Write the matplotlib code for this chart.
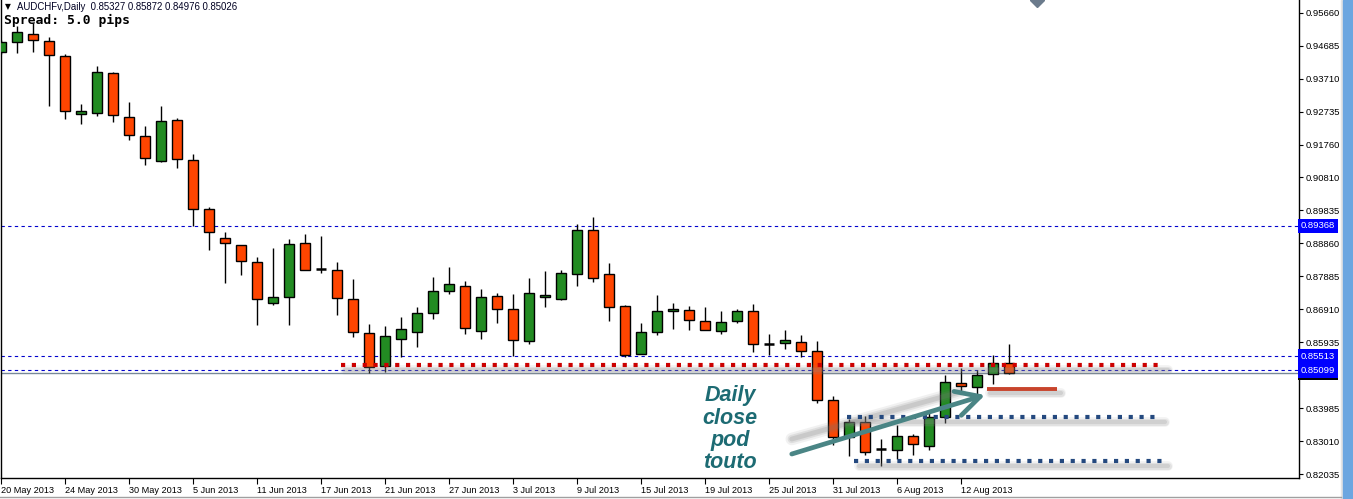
#AUDCHF daily candles, MT4 style screenshot
import matplotlib
matplotlib.use('Agg')
import matplotlib.pyplot as plt
from matplotlib.patches import Rectangle
from matplotlib.lines import Line2D
from matplotlib.transforms import blended_transform_factory

plt.rcParams['font.family'] = ['Liberation Sans', 'DejaVu Sans']

opens = [0.94516, 0.94794, 0.95030, 0.94824, 0.94389, 0.92666, 0.92696, 0.93878, 0.92577, 0.92016,
         0.91277, 0.92489, 0.91306, 0.89858, 0.89001, 0.88794, 0.88292, 0.87080, 0.87257, 0.88853,
         0.88087, 0.88055, 0.87198, 0.86193, 0.85218, 0.86016, 0.86223, 0.86784, 0.87435, 0.87582,
         0.86252, 0.87287, 0.86903, 0.85957, 0.87257, 0.87198, 0.87937, 0.89238, 0.87937, 0.86991,
         0.85573, 0.86223, 0.86843, 0.86873, 0.86548, 0.86252, 0.86548, 0.86843, 0.85870, 0.85898,
         0.85927, 0.85661, 0.84213, 0.83119, 0.83563, 0.82767, 0.82735, 0.83149, 0.82853, 0.83710,
         0.84715, 0.84597, 0.84981, 0.85327]
highs = [0.94862, 0.95276, 0.95356, 0.94942, 0.94448, 0.92970, 0.94094, 0.93916, 0.93030, 0.92320,
         0.92911, 0.92548, 0.91493, 0.89917, 0.89187, 0.88800, 0.88440, 0.88706, 0.88972, 0.89119,
         0.89060, 0.88292, 0.87798, 0.86468, 0.86409, 0.86675, 0.86962, 0.87857, 0.88153, 0.87739,
         0.87494, 0.87376, 0.87355, 0.87828, 0.88035, 0.88064, 0.89424, 0.89631, 0.88262, 0.87030,
         0.86498, 0.87316, 0.87080, 0.86991, 0.86962, 0.86843, 0.86903, 0.87050, 0.86164, 0.86282,
         0.86134, 0.85957, 0.84331, 0.83651, 0.83740, 0.83060, 0.83474, 0.83208, 0.83888, 0.84952,
         0.85159, 0.85100, 0.85543, 0.85872]
lows = [0.94448, 0.94469, 0.94498, 0.92920, 0.92518, 0.92388, 0.92625, 0.92447, 0.91915, 0.91176,
        0.91270, 0.91088, 0.89373, 0.88664, 0.87689, 0.87925, 0.86447, 0.87021, 0.86447, 0.88050,
        0.87967, 0.86743, 0.86093, 0.85029, 0.85058, 0.85484, 0.85797, 0.86625, 0.87346, 0.86181,
        0.86034, 0.86507, 0.85531, 0.85886, 0.86979, 0.87190, 0.87600, 0.87718, 0.86566, 0.85484,
        0.85570, 0.86134, 0.86311, 0.86282, 0.86280, 0.86164, 0.86489, 0.85632, 0.85543, 0.85720,
        0.85484, 0.84124, 0.82883, 0.82558, 0.82587, 0.82262, 0.82469, 0.82587, 0.82735, 0.83533,
        0.84479, 0.84302, 0.84686, 0.84976]
closes = [0.94794, 0.95090, 0.94853, 0.94410, 0.92755, 0.92764, 0.93907, 0.92636, 0.92045, 0.91366,
          0.92459, 0.91336, 0.89858, 0.89178, 0.88853, 0.88321, 0.87198, 0.87257, 0.88824, 0.88055,
          0.88083, 0.87228, 0.86240, 0.85206, 0.86104, 0.86311, 0.86784, 0.87435, 0.87641, 0.86341,
          0.87257, 0.86903, 0.85986, 0.87376, 0.87316, 0.87967, 0.89238, 0.87819, 0.86962, 0.85543,
          0.86223, 0.86843, 0.86903, 0.86577, 0.86282, 0.86518, 0.86843, 0.85868, 0.85866, 0.85986,
          0.85661, 0.84213, 0.83119, 0.83563, 0.82676, 0.82763, 0.83149, 0.82912, 0.83710, 0.84745,
          0.84627, 0.84952, 0.85320, 0.85026]

date_labels = ['20 May 2013', '24 May 2013', '30 May 2013', '5 Jun 2013', '11 Jun 2013', '17 Jun 2013',
               '21 Jun 2013', '27 Jun 2013', '3 Jul 2013', '9 Jul 2013', '15 Jul 2013', '19 Jul 2013',
               '25 Jul 2013', '31 Jul 2013', '6 Aug 2013', '12 Aug 2013']
price_ticks = [0.95660, 0.94685, 0.93710, 0.92735, 0.91760, 0.90810, 0.89835, 0.88860, 0.87885,
               0.86910, 0.85935, 0.83985, 0.83010, 0.82035]
level_lines = [0.89368, 0.85513, 0.85099]
bid = 0.85026

W, H = 1353, 499
fig = plt.figure(figsize=(W / 100, H / 100), dpi=100)
ax = fig.add_axes([1 / W, 21 / H, 1298 / W, 478 / H])
ax.set_xlim(-0.02, 81.1)
ax.set_ylim(0.81917, 0.96044)

# candles
for i in range(len(opens)):
    o, h, l, c = opens[i], highs[i], lows[i], closes[i]
    ax.vlines(i, l, h, color='black', lw=1.0, zorder=2)
    if abs(c - o) < 0.00006:
        ax.hlines(o, i - 0.31, i + 0.31, color='black', lw=1.8, zorder=3)
    else:
        col = '#228b22' if c > o else '#ff4500'
        ax.bar(i, abs(c - o), bottom=min(o, c), width=0.62, color=col,
               edgecolor='black', linewidth=1.0, zorder=3)

# horizontal levels
for p in level_lines:
    ax.axhline(p, color='#0000cd', lw=0.8, ls=(0, (3, 3)), zorder=1)
ax.axhline(bid, color='#778899', lw=1.0, zorder=1)

# hand drawn markup
def dotted(x0, x1, y, color):
    for w, a in [(7, 0.10), (5, 0.15), (3, 0.2)]:
        ax.plot([x0 + 0.3, x1 + 0.3], [y - 0.0016, y - 0.0016], color='#888888', lw=w,
                alpha=a, solid_capstyle='round', zorder=4)
    ax.plot([x0, x1], [y, y], color=color, lw=3.0, ls=(0, (1, 1.6)),
            dash_capstyle='butt', zorder=5)

dotted(21.2, 72.6, 0.85271, '#cc0000')
dotted(52.85, 72.4, 0.83719, '#24497f')
dotted(53.3, 72.6, 0.82428, '#24497f')

for w, a in [(7, 0.10), (5, 0.15), (3, 0.2)]:
    ax.plot([61.8, 66.2], [0.84420, 0.84420], color='#888888', lw=w, alpha=a,
            solid_capstyle='round', zorder=4)
ax.plot([61.59, 65.96], [0.84538, 0.84538], color='#c8442c', lw=2.8,
        solid_capstyle='butt', zorder=5)

# arrow with its shadow
for w, a in [(9, 0.10), (6, 0.15), (3.5, 0.2)]:
    ax.plot([49.4, 59.9], [0.83069, 0.84458], color='#777777', lw=w, alpha=a,
            solid_capstyle='round', zorder=4)
ax.annotate('', xy=(61.48, 0.84370), xytext=(49.4, 0.82626),
            arrowprops=dict(arrowstyle='->,head_length=0.85,head_width=0.45',
                            color='#4a8585', lw=3.4, mutation_scale=20,
                            shrinkA=0, shrinkB=0), zorder=6)

ax.text(45.56, 0.83356, 'Daily\nclose\npod\ntouto', ha='center', va='center',
        fontsize=15.5, fontweight='bold', style='italic', color='#1d6b73',
        linespacing=1.08, zorder=7)

# little grey marker at top
ax.plot(64.7, 0.96044, marker='D', ms=7, color='#6b7b8c', clip_on=True, zorder=7)

# axes look
ax.spines['top'].set_visible(False)
for s in ['left', 'bottom', 'right']:
    ax.spines[s].set_linewidth(1.0)
ax.yaxis.tick_right()
ax.set_yticks(price_ticks)
ax.set_yticklabels(['%.5f' % v for v in price_ticks])
ax.tick_params(axis='y', direction='out', length=3, pad=2, labelsize=6.8)
ax.set_xticks(range(0, len(opens), 4))
ax.set_xticklabels(date_labels)
ax.tick_params(axis='x', direction='out', length=4, pad=2, labelsize=6.6)
for lbl in ax.get_xticklabels():
    lbl.set_ha('left')

# price boxes on the scale
trans = blended_transform_factory(ax.transAxes, ax.transData)
ax.text(1.0012, bid, '%.5f' % bid, transform=trans, ha='left', va='center', color='white',
        fontsize=6.8, bbox=dict(boxstyle='square,pad=0.3', fc='black', ec='none'),
        clip_on=False, zorder=8)
for p in level_lines:
    ax.text(1.0012, p, '%.5f' % p, transform=trans, ha='left', va='center', color='white',
            fontsize=6.8, bbox=dict(boxstyle='square,pad=0.3', fc='#0000ff', ec='none'),
            clip_on=False, zorder=9)

# header texts
fig.text(5 / W, 1 - 7 / H, '▼', fontsize=5.5, va='center', ha='left', family=['DejaVu Sans'])
fig.text(17 / W, 1 - 7 / H, 'AUDCHFv,Daily  0.85327 0.85872 0.84976 0.85026', fontsize=6.9,
         va='center', ha='left', color='#000022')
fig.text(4 / W, 1 - 20 / H, 'Spread: 5.0 pips', family='DejaVu Sans Mono', fontsize=9.4,
         fontweight='bold', va='center', ha='left')

# window frame bits
fig.add_artist(Rectangle((1341 / W, 0), 2 / W, 1, transform=fig.transFigure, color='#e4e4e4'))
fig.add_artist(Rectangle((1343 / W, 0), 10 / W, 1, transform=fig.transFigure, color='#6ca6e0'))
fig.add_artist(Line2D([0, 1341 / W], [2.5 / H, 2.5 / H], transform=fig.transFigure,
                      color='#a0a0a0', lw=1))

plt.savefig('out.png', dpi=100)
